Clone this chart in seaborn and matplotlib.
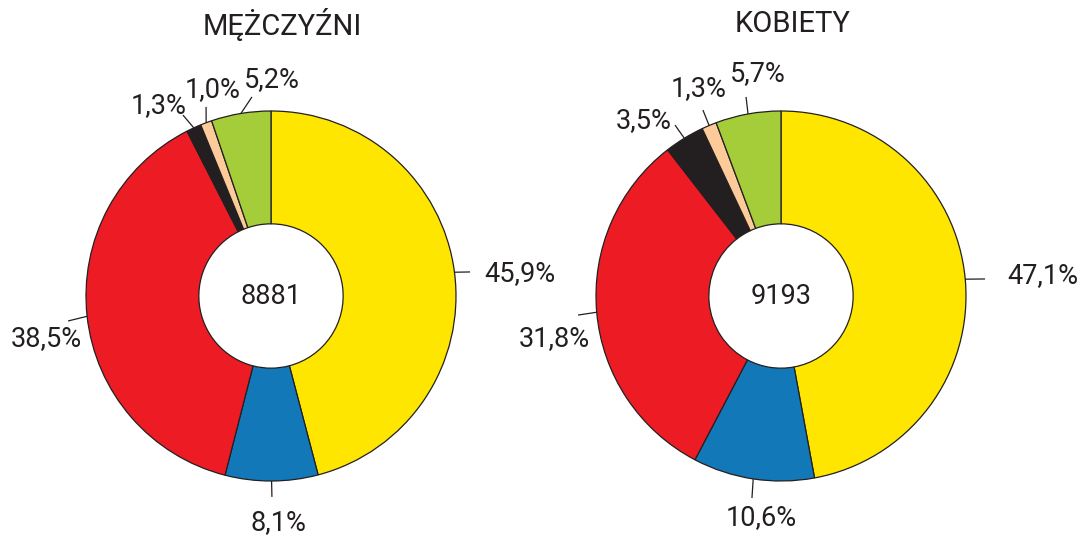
import numpy as np
import matplotlib
matplotlib.use("Agg")
import matplotlib.pyplot as plt
import seaborn as sns

# ---- data ----
titles = ["MĘŻCZYŹNI", "KOBIETY"]
totals = ["8881", "9193"]
men_values = [45.9, 8.1, 38.5, 1.3, 1.0, 5.2]
women_values = [47.1, 10.6, 31.8, 3.5, 1.3, 5.7]
men_labels = ["45,9%", "8,1%", "38,5%", "1,3%", "1,0%", "5,2%"]
women_labels = ["47,1%", "10,6%", "31,8%", "3,5%", "1,3%", "5,7%"]

# ---- style / layout ----
sns.set_theme(style="white")
plt.rcParams["font.family"] = ["Roboto", "DejaVu Sans"]
colors = ["#FFE600", "#1378B8", "#ED1C24", "#231F20", "#FDCB9A", "#A5CD39"]
ink = "#231F20"

# leader line ends and text centres, in units of the outer radius
men_line_ends = [(1.076, 0.130), (0.005, -1.086), (-1.097, -0.135),
                 (-0.476, 0.978), (-0.351, 1.022), (-0.103, 1.076)]
men_text_pos = [(1.346, 0.119), (0.038, -1.227), (-1.216, -0.232),
                (-0.605, 1.032), (-0.314, 1.114), (0.005, 1.168)]
women_line_ends = [(1.103, 0.092), (-0.157, -1.092), (-1.097, -0.103),
                   (-0.573, 0.924), (-0.422, 1.005), (-0.189, 1.076)]
women_text_pos = [(1.416, 0.108), (-0.108, -1.200), (-1.227, -0.232),
                  (-0.741, 0.951), (-0.443, 1.124), (-0.124, 1.205)]

W, H = 1082, 536
R = 185.0            # outer radius, px
cy = 296.0           # centre y from top, px
centers_x = [271.0, 781.0]
ax_w = 540.0

fig = plt.figure(figsize=(W / 100, H / 100), dpi=100)
fig.patch.set_facecolor("white")

charts = [
    (men_values, men_labels, men_line_ends, men_text_pos),
    (women_values, women_labels, women_line_ends, women_text_pos),
]

for i, (vals, labs, lends, tpos) in enumerate(charts):
    cx = centers_x[i]
    ax = fig.add_axes([(cx - ax_w / 2) / W, 0, ax_w / W, 1])
    wedges, _ = ax.pie(vals, colors=colors, startangle=90, counterclock=False,
                       radius=1.0,
                       wedgeprops=dict(width=0.61, edgecolor=ink, linewidth=0.9))
    ax.set_xlim(-ax_w / 2 / R, ax_w / 2 / R)
    ax.set_ylim(-(H - cy) / R, cy / R)
    ax.set_aspect("auto")
    ax.axis("off")

    for w, lab, le, tp in zip(wedges, labs, lends, tpos):
        mid = np.deg2rad((w.theta1 + w.theta2) / 2)
        sx, sy = np.cos(mid), np.sin(mid)
        ax.plot([sx, le[0]], [sy, le[1]], color=ink, lw=0.9,
                solid_capstyle="butt")
        ax.text(tp[0], tp[1], lab, ha="center", va="center",
                fontsize=19.5, color=ink)

    ax.text(0, 0, totals[i], ha="center", va="center", fontsize=19.5,
            color=ink)
    ax.text(0.062, 1.47, titles[i], ha="center", va="center",
            fontsize=21, color=ink)

fig.savefig("out.png", dpi=100, facecolor="white")
